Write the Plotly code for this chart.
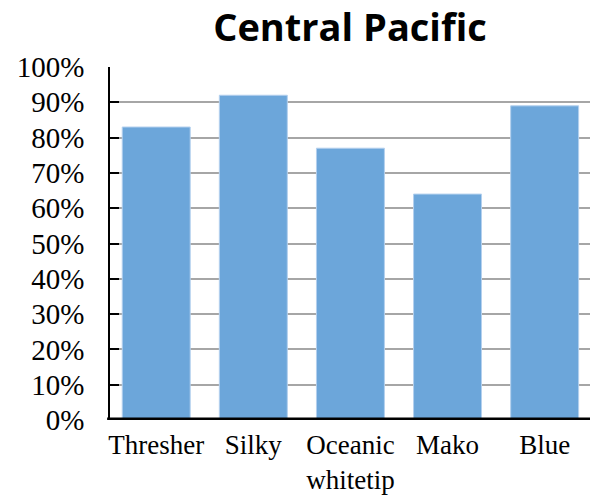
import plotly.graph_objects as go

# Share of catch by species, Central Pacific
species = ["Thresher", "Silky", "Oceanic<br>whitetip", "Mako", "Blue"]
share = [0.83, 0.92, 0.77, 0.64, 0.89]
y_ticks = [i / 10 for i in range(11)]

fig = go.Figure(
    go.Bar(
        x=species,
        y=share,
        marker=dict(color="#6CA6DA", line=dict(color="#B4D0EE", width=1)),
        width=0.70,
    )
)

serif_y = dict(family="Liberation Serif", size=29, color="#000000")
serif_x = dict(family="Liberation Serif", size=27, color="#000000")

fig.update_layout(
    width=590,
    height=499,
    margin=dict(l=110, r=0, t=67, b=79),
    paper_bgcolor="white",
    plot_bgcolor="white",
    showlegend=False,
    title=dict(
        text="<b>Central Pacific</b>",
        font=dict(family="Open Sans", size=38, color="#000000"),
        x=350 / 590,
        xanchor="center",
        xref="container",
        y=1 - 28 / 499,
        yref="container",
        yanchor="middle",
    ),
    xaxis=dict(
        range=[-0.476, 4.467],
        tickfont=serif_x,
        showline=False,
        showgrid=False,
        ticks="",
        fixedrange=True,
        ticklabelstandoff=6,
        automargin=False,
    ),
    yaxis=dict(
        range=[0, 1],
        tickvals=y_ticks,
        tickformat=".0%",
        tickfont=serif_y,
        showline=True,
        linecolor="#000000",
        linewidth=1.5,
        ticks="inside",
        ticklen=9,
        tickwidth=1.5,
        tickcolor="#000000",
        showgrid=True,
        gridcolor="#A6A6A6",
        gridwidth=1.5,
        zeroline=False,
        ticklabelstandoff=18,
        automargin=False,
    ),
    shapes=[
        dict(
            type="line",
            xref="paper",
            yref="y",
            x0=-0.006,
            x1=1,
            y0=0,
            y1=0,
            line=dict(color="#000000", width=5),
            layer="above",
        )
    ],
)

fig.write_html("out.html")
